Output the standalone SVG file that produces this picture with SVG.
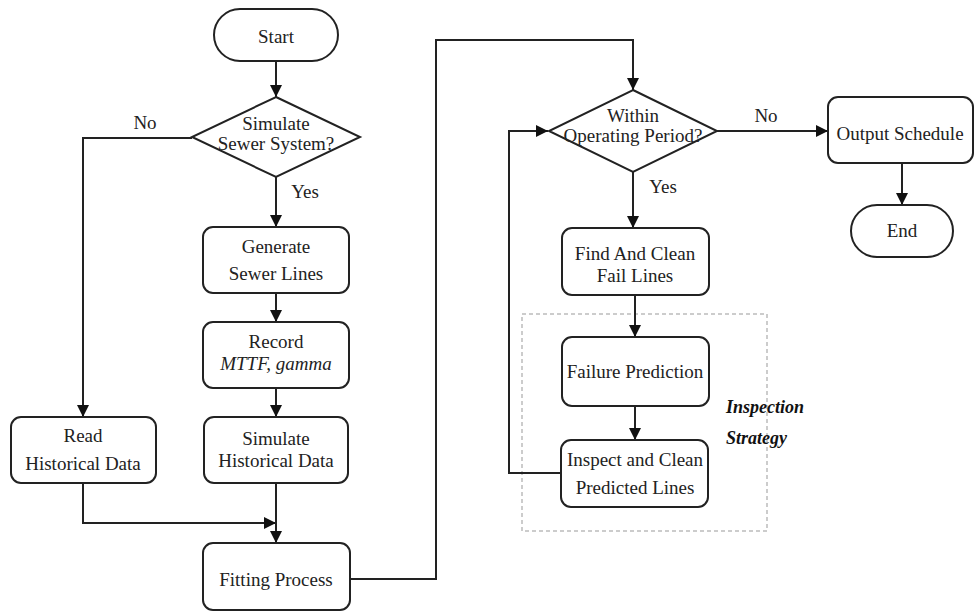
<svg xmlns="http://www.w3.org/2000/svg" width="974" height="613" viewBox="0 0 974 613">
<style>
.box{fill:#fff;stroke:#222;stroke-width:2}
.t{font-family:'Liberation Serif','DejaVu Serif',serif;font-size:19px;fill:#222;text-anchor:middle}
.it{font-style:italic}
.bi{font-family:'Liberation Serif','DejaVu Serif',serif;font-size:18px;font-weight:bold;font-style:italic;fill:#111}
.c{fill:none;stroke:#222;stroke-width:2}
</style>
<defs>
<marker id="ah" markerWidth="12" markerHeight="12" refX="12" refY="6" orient="auto" markerUnits="userSpaceOnUse">
<path d="M0,0 L12,6 L0,12 Z" fill="#111"/>
</marker>
</defs>
<rect width="974" height="613" fill="#fff"/>

<rect id="strategy-frame" x="522" y="314" width="245" height="217" fill="none" stroke="#999" stroke-width="1" stroke-dasharray="4 3"/>

<g id="connectors">
<path class="c" d="M276,61 V97" marker-end="url(#ah)"/>
<path class="c" d="M192,138 H83 V417" marker-end="url(#ah)"/>
<path class="c" d="M276,177 V227" marker-end="url(#ah)"/>
<path class="c" d="M276,293 V322" marker-end="url(#ah)"/>
<path class="c" d="M276,388 V417" marker-end="url(#ah)"/>
<path class="c" d="M83,483 V523 H276" marker-end="url(#ah)"/>
<path class="c" d="M276,483 V543" marker-end="url(#ah)"/>
<path class="c" d="M350,579 H436 V40 H633 V90" marker-end="url(#ah)"/>
<path class="c" d="M633,172 V228" marker-end="url(#ah)"/>
<path class="c" d="M717,131 H828" marker-end="url(#ah)"/>
<path class="c" d="M902,163 V205" marker-end="url(#ah)"/>
<path class="c" d="M635,295 V337" marker-end="url(#ah)"/>
<path class="c" d="M635,406 V440" marker-end="url(#ah)"/>
<path class="c" d="M561,473 H509 V131 H548" marker-end="url(#ah)"/>
<text class="t" x="145" y="129">No</text>
<text class="t" x="305" y="198">Yes</text>
<text class="t" x="663" y="193">Yes</text>
<text class="t" x="766" y="122">No</text>
</g>

<g id="start">
<rect class="box" x="214" y="9" width="124" height="52" rx="26"/>
<text class="t" x="276" y="43">Start</text>
</g>
<g id="simulate-decision">
<polygon class="box" points="276,97 360,137 276,177 192,137"/>
<text class="t" x="276" y="130">Simulate</text>
<text class="t" x="276" y="150">Sewer System?</text>
</g>
<g id="generate">
<rect class="box" x="203" y="227" width="146" height="66" rx="10"/>
<text class="t" x="276" y="253">Generate</text>
<text class="t" x="276" y="280">Sewer Lines</text>
</g>
<g id="record">
<rect class="box" x="203" y="322" width="146" height="66" rx="10"/>
<text class="t" x="276" y="348">Record</text>
<text class="t it" x="276" y="370">MTTF, gamma</text>
</g>
<g id="simulate-historical">
<rect class="box" x="204" y="417" width="144" height="66" rx="10"/>
<text class="t" x="276" y="445">Simulate</text>
<text class="t" x="276" y="467">Historical Data</text>
</g>
<g id="read-historical">
<rect class="box" x="11" y="417" width="145" height="66" rx="10"/>
<text class="t" x="83" y="442">Read</text>
<text class="t" x="83" y="470">Historical Data</text>
</g>
<g id="fitting">
<rect class="box" x="203" y="543" width="147" height="67" rx="10"/>
<text class="t" x="276" y="586">Fitting Process</text>
</g>
<g id="operating-decision">
<polygon class="box" points="633,90 717,131 633,172 549,131"/>
<text class="t" x="633" y="122">Within</text>
<text class="t" x="633" y="142">Operating Period?</text>
</g>
<g id="output">
<rect class="box" x="828" y="97" width="145" height="66" rx="10"/>
<text class="t" x="900" y="140">Output Schedule</text>
</g>
<g id="end">
<rect class="box" x="851" y="205" width="102" height="52" rx="26"/>
<text class="t" x="902" y="237">End</text>
</g>
<g id="find-clean">
<rect class="box" x="562" y="228" width="147" height="67" rx="10"/>
<text class="t" x="635" y="260">Find And Clean</text>
<text class="t" x="635" y="282">Fail Lines</text>
</g>
<g id="failure-prediction">
<rect class="box" x="562" y="337" width="147" height="69" rx="10"/>
<text class="t" x="635" y="378">Failure Prediction</text>
</g>
<g id="inspect-clean">
<rect class="box" x="561" y="440" width="147" height="67" rx="10"/>
<text class="t" x="635" y="466">Inspect and Clean</text>
<text class="t" x="635" y="494">Predicted Lines</text>
</g>
<g id="strategy-label">
<text class="bi" x="726" y="413">Inspection</text>
<text class="bi" x="726" y="444">Strategy</text>
</g>
</svg>
